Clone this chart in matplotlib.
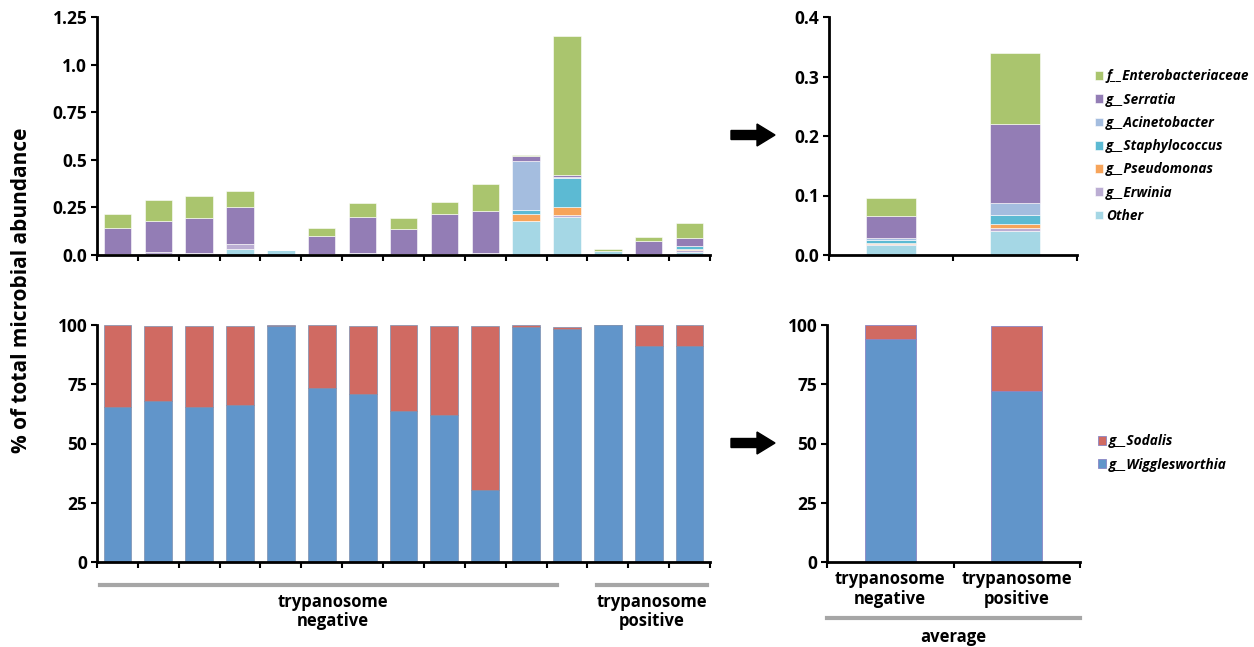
import numpy as np
import matplotlib
matplotlib.use("Agg")
import matplotlib.pyplot as plt
from matplotlib.patches import Polygon
from matplotlib.lines import Line2D

plt.rcParams['font.family'] = ['Open Sans', 'DejaVu Sans']
plt.rcParams['font.weight'] = 'bold'

# ===== DATA =====
taxa = ['Other', 'g__Erwinia', 'g__Pseudomonas', 'g__Staphylococcus',
        'g__Acinetobacter', 'g__Serratia', 'f__Enterobacteriaceae']
taxa_colors = ['#A5D7E5', '#BBADD3', '#F7A45A', '#5CBAD3',
               '#A4BDDF', '#937DB5', '#AAC56E']

# per-sample segment values (% of total), 15 samples: 12 negative + 3 positive
other = [0.005, 0.005, 0.004, 0.032, 0.027, 0.003, 0.008, 0.003, 0.005, 0.006, 0.176, 0.200, 0.020, 0.003, 0.015]
erwinia = [0.0, 0.010, 0.008, 0.024, 0.0, 0.0, 0.0, 0.0, 0.0, 0.004, 0.0, 0.008, 0.0, 0.0, 0.010]
pseudomonas = [0.0, 0.0, 0.0, 0.0, 0.0, 0.0, 0.0, 0.0, 0.0, 0.0, 0.039, 0.044, 0.0, 0.0, 0.007]
staphylococcus = [0.0, 0.0, 0.0, 0.0, 0.0, 0.0, 0.0, 0.0, 0.0, 0.0, 0.023, 0.152, 0.0, 0.0, 0.016]
acinetobacter = [0.0, 0.0, 0.0, 0.0, 0.0, 0.0, 0.0, 0.0, 0.0, 0.0, 0.256, 0.006, 0.0, 0.0, 0.0]
serratia = [0.139, 0.166, 0.180, 0.198, 0.0, 0.099, 0.191, 0.131, 0.210, 0.221, 0.024, 0.010, 0.0, 0.073, 0.042]
enterobacteriaceae = [0.071, 0.109, 0.120, 0.084, 0.0, 0.042, 0.074, 0.060, 0.064, 0.141, 0.009, 0.730, 0.010, 0.019, 0.076]

# averages: [negative, positive]
avg_other = [0.016, 0.041]
avg_erwinia = [0.002, 0.004]
avg_pseudomonas = [0.003, 0.007]
avg_staphylococcus = [0.005, 0.015]
avg_acinetobacter = [0.002, 0.0205]
avg_serratia = [0.038, 0.1325]
avg_enterobacteriaceae = [0.030, 0.120]

wigglesworthia = [65.6, 67.8, 65.6, 66.4, 99.6, 73.4, 70.9, 63.9, 62.2, 30.2, 99.2, 98.3, 99.8, 91.1, 91.1]
sodalis = [34.4, 31.8, 34.0, 33.2, 0.4, 26.6, 28.7, 36.1, 37.4, 69.4, 0.8, 1.0, 0.2, 8.9, 8.9]
avg_wigglesworthia = [94.3, 72.2]
avg_sodalis = [5.7, 27.4]

avg_labels = ['trypanosome\nnegative', 'trypanosome\npositive']

W, H = 1254, 647
fig = plt.figure(figsize=(W / 100, H / 100), dpi=100)

def px_axes(x0, y0, x1, y1):
    return fig.add_axes([x0 / W, 1 - y1 / H, (x1 - x0) / W, (y1 - y0) / H])

ax_tl = px_axes(97, 17, 710, 255)
ax_tr = px_axes(829, 17, 1077, 255)
ax_bl = px_axes(97, 325, 710, 562)
ax_br = px_axes(827, 325, 1080, 562)

def style(ax, n):
    for s in ['top', 'right']:
        ax.spines[s].set_visible(False)
    for s in ['left', 'bottom']:
        ax.spines[s].set_linewidth(2)
    ax.set_xlim(-0.5, n - 0.5)
    ax.set_xticks([])
    ax.set_xticks(np.arange(-0.5, n, 1.0), minor=True)
    ax.tick_params(axis='x', which='minor', direction='out', length=4, width=1.5)
    ax.tick_params(axis='y', direction='out', length=4, width=1.5, labelsize=12.5, pad=3)
    for lab in ax.get_yticklabels():
        lab.set_fontweight('bold')

def stack(ax, x, layers, colors, width, edge, lw):
    bottom = np.zeros(len(x))
    handles = []
    for vals, c in zip(layers, colors):
        h = ax.bar(x, vals, width, bottom=bottom, color=c, edgecolor=edge, linewidth=lw)
        handles.append(h)
        bottom = bottom + np.array(vals)
    return handles

legend_kw = dict(loc='upper left', frameon=False, handlelength=0.6, handleheight=0.6,
                 handletextpad=0.2, labelspacing=0.68,
                 prop={'style': 'italic', 'weight': 'bold', 'size': 9.8})

# top-left
x15 = np.arange(15)
layers = [other, erwinia, pseudomonas, staphylococcus, acinetobacter, serratia, enterobacteriaceae]
stack(ax_tl, x15, layers, taxa_colors, 0.67, 'white', 0.4)
ax_tl.set_ylim(0, 1.25)
ax_tl.set_yticks([0, 0.25, 0.5, 0.75, 1.0, 1.25])
ax_tl.set_yticklabels(['0.0', '0.25', '0.5', '0.75', '1.0', '1.25'])
style(ax_tl, 15)

# top-right
x2 = np.arange(2)
avg_layers = [avg_other, avg_erwinia, avg_pseudomonas, avg_staphylococcus,
              avg_acinetobacter, avg_serratia, avg_enterobacteriaceae]
handles = stack(ax_tr, x2, avg_layers, taxa_colors, 0.41, 'white', 0.4)
ax_tr.set_ylim(0, 0.4)
ax_tr.set_yticks([0, 0.1, 0.2, 0.3, 0.4])
ax_tr.set_yticklabels(['0.0', '0.1', '0.2', '0.3', '0.4'])
style(ax_tr, 2)

fig.legend(handles[::-1], taxa[::-1], bbox_to_anchor=(1083 / W, 1 - 57 / H), **legend_kw)

# bottom-left
stack(ax_bl, x15, [wigglesworthia, sodalis], ['#6195CA', '#D06A62'], 0.68, '#7a8fb0', 0.5)
ax_bl.set_ylim(0, 100)
ax_bl.set_yticks([0, 25, 50, 75, 100])
style(ax_bl, 15)

# bottom-right
h2 = stack(ax_br, x2, [avg_wigglesworthia, avg_sodalis], ['#6195CA', '#D06A62'], 0.4, '#8a86c4', 0.6)
ax_br.set_ylim(0, 100)
ax_br.set_yticks([0, 25, 50, 75, 100])
style(ax_br, 2)
ax_br.set_xticks(x2)
ax_br.set_xticklabels(avg_labels, fontsize=12, fontweight='bold', linespacing=1.1)
ax_br.tick_params(axis='x', which='major', length=0, pad=6)

fig.legend(h2[::-1], ['g__Sodalis', 'g__Wigglesworthia'],
           bbox_to_anchor=(1086 / W, 1 - 422 / H), **legend_kw)

# group annotations under bottom-left
grey = '#A6A6A6'
trans = ax_bl.get_xaxis_transform()
ax_bl.add_line(Line2D([-0.43, 10.75], [-0.097, -0.097], transform=trans, color=grey, lw=3, clip_on=False))
ax_bl.add_line(Line2D([11.73, 14.42], [-0.097, -0.097], transform=trans, color=grey, lw=3, clip_on=False))
ax_bl.text(5.27, -0.21, 'trypanosome\nnegative', transform=trans, ha='center', va='center',
           fontsize=12, fontweight='bold', linespacing=1.1)
ax_bl.text(13.07, -0.21, 'trypanosome\npositive', transform=trans, ha='center', va='center',
           fontsize=12, fontweight='bold', linespacing=1.1)

trans_r = ax_br.get_xaxis_transform()
ax_br.add_line(Line2D([-0.5, 1.5], [-0.236, -0.236], transform=trans_r, color=grey, lw=3, clip_on=False))
ax_br.text(0.5, -0.316, 'average', transform=trans_r, ha='center', va='center',
           fontsize=12, fontweight='bold')

# y label
fig.text(22 / W, 1 - 290 / H, '% of total microbial abundance', rotation=90,
         ha='center', va='center', fontsize=15, fontweight='bold')

# arrows
def arrow(yc):
    pts = [(731, yc - 4.5), (757, yc - 4.5), (757, yc - 11), (775, yc),
           (757, yc + 11), (757, yc + 4.5), (731, yc + 4.5)]
    poly = Polygon([(px / W, 1 - py / H) for px, py in pts], closed=True,
                   transform=fig.transFigure, color='black')
    fig.patches.append(poly)

arrow(135)
arrow(443)

fig.savefig('out.png', dpi=100)
